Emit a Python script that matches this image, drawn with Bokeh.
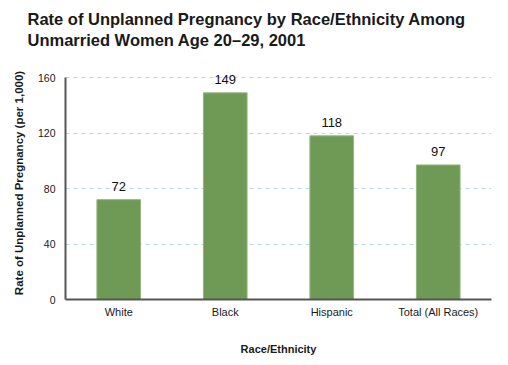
from bokeh.plotting import figure
from bokeh.models import ColumnDataSource, LabelSet, FixedTicker, Title, Range1d
from bokeh.core.properties import value
from bokeh.embed import file_html
from bokeh.resources import INLINE

categories = ["White", "Black", "Hispanic", "Total (All Races)"]
rates = [72, 149, 118, 97]
y_ticks = [0, 40, 80, 120, 160]

FONT = "Liberation Sans"

src = ColumnDataSource(dict(cat=categories, rate=rates, lbl=[str(v) for v in rates]))

# range end slightly above 160 so the value label over the tallest bar is not clipped;
# the axis line itself is bounded to 0..160
p = figure(x_range=categories, y_range=Range1d(0, 168), width=500, height=357,
           output_backend="svg", toolbar_location=None,
           min_border_left=65, min_border_right=9, min_border_bottom=58, min_border_top=0)
p.outline_line_color = None

p.vbar(x="cat", top="rate", width=0.41, source=src, fill_color="#6f9a55",
       line_color="#94b57f", line_width=1)

labels = LabelSet(x="cat", y="rate", text="lbl", source=src, y_offset=9,
                  text_align="center", text_baseline="alphabetic",
                  text_font_size=value("13px"), text_font=value(FONT),
                  text_color="#111111")
p.add_layout(labels)

# titles: spacer nearest the frame, then line 2, then line 1, then a top spacer
spacer = Title(text=" ", text_font_size="1px", standoff=14)
t2 = Title(text="Unmarried Women Age 20\u201329, 2001", text_font_size="16.5px",
           text_font=FONT, text_font_style="bold", text_color="#1a1a1a",
           align="left", offset=-38, standoff=2)
t1 = Title(text="Rate of Unplanned Pregnancy by Race/Ethnicity Among", text_font_size="16.5px",
           text_font=FONT, text_font_style="bold", text_color="#1a1a1a",
           align="left", offset=-38, standoff=0)
top_spacer = Title(text=" ", text_font_size="1px", standoff=4)
p.add_layout(spacer, "above")
p.add_layout(t2, "above")
p.add_layout(t1, "above")
p.add_layout(top_spacer, "above")

p.yaxis.ticker = FixedTicker(ticks=y_ticks)
p.yaxis.bounds = (0, 160)
p.yaxis.axis_label = "Rate of Unplanned Pregnancy (per 1,000)"
p.xaxis.axis_label = "Race/Ethnicity"
for ax in (p.xaxis, p.yaxis):
    ax.axis_label_text_font = FONT
    ax.axis_label_text_font_style = "bold"
    ax.axis_label_text_color = "#1a1a1a"
    ax.major_label_text_font = FONT
    ax.major_label_text_color = "#1a1a1a"
    ax.axis_line_color = "#555555"
    ax.axis_line_width = 2
    ax.major_tick_line_color = None
    ax.minor_tick_line_color = None
    ax.major_tick_out = 0
    ax.major_tick_in = 0
p.xaxis.axis_label_text_font_size = "11px"
p.yaxis.axis_label_text_font_size = "11.5px"
p.xaxis.major_label_text_font_size = "11px"
p.yaxis.major_label_text_font_size = "10.5px"
p.yaxis.major_label_standoff = 10
p.yaxis.axis_label_standoff = 10
p.xaxis.major_label_standoff = 6
p.xaxis.axis_label_standoff = 22

p.xgrid.grid_line_color = None
p.ygrid.grid_line_color = "#b5d5ea"
p.ygrid.grid_line_dash = "4 4"
p.ygrid.grid_line_width = 1

open("out.html", "w").write(file_html(p, INLINE))
